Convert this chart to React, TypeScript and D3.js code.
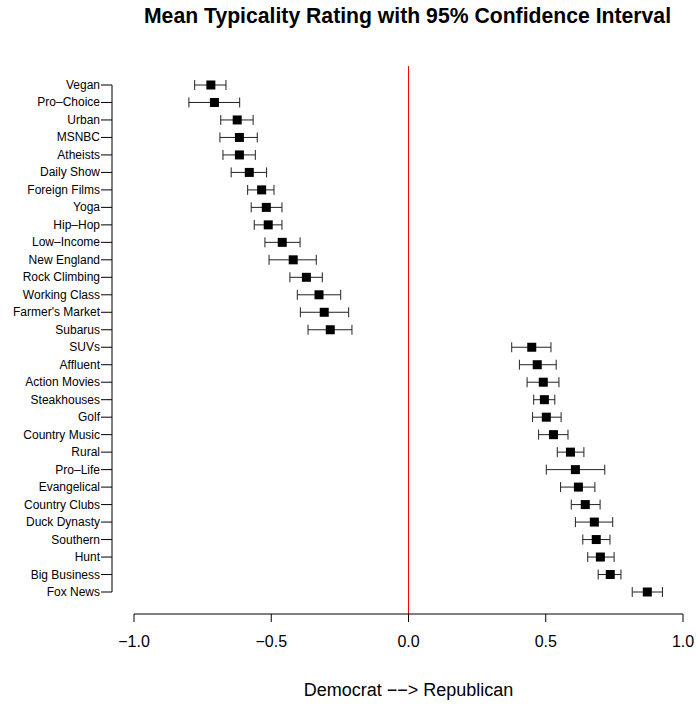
import React from "react";
import * as d3 from "d3";

// Items ordered top to bottom
const categories = [
  "Vegan", "Pro–Choice", "Urban", "MSNBC", "Atheists", "Daily Show", "Foreign Films",
  "Yoga", "Hip–Hop", "Low–Income", "New England", "Rock Climbing", "Working Class",
  "Farmer's Market", "Subarus", "SUVs", "Affluent", "Action Movies", "Steakhouses",
  "Golf", "Country Music", "Rural", "Pro–Life", "Evangelical", "Country Clubs",
  "Duck Dynasty", "Southern", "Hunt", "Big Business", "Fox News",
];

// Mean typicality rating per item
const means = [
  -0.72, -0.707, -0.624, -0.616, -0.616, -0.58, -0.535,
  -0.518, -0.511, -0.46, -0.42, -0.372, -0.326,
  -0.307, -0.285, 0.449, 0.469, 0.491, 0.495,
  0.502, 0.528, 0.59, 0.608, 0.619, 0.644,
  0.677, 0.684, 0.699, 0.735, 0.87,
];

// Lower bound of the 95% confidence interval
const lower = [
  -0.779, -0.8, -0.684, -0.687, -0.676, -0.646, -0.586,
  -0.573, -0.562, -0.523, -0.508, -0.432, -0.405,
  -0.394, -0.366, 0.376, 0.404, 0.432, 0.456,
  0.452, 0.474, 0.542, 0.502, 0.554, 0.593,
  0.608, 0.635, 0.653, 0.691, 0.815,
];

// Upper bound of the 95% confidence interval
const upper = [
  -0.665, -0.615, -0.566, -0.551, -0.558, -0.517, -0.49,
  -0.461, -0.461, -0.395, -0.336, -0.314, -0.247,
  -0.218, -0.206, 0.519, 0.538, 0.548, 0.533,
  0.556, 0.581, 0.639, 0.715, 0.679, 0.698,
  0.744, 0.734, 0.749, 0.774, 0.925,
];

const xTicks = [-1, -0.5, 0, 0.5, 1];

const W = 696;
const H = 704;
const FONT = "'Liberation Sans', Arial, Helvetica, sans-serif";

export default function App() {
  const x = d3.scaleLinear().domain([-1, 1]).range([134, 683]);
  const y = d3.scalePoint<string>().domain(categories).range([85, 592]);
  const axisY = 614;
  const yAxisX = 112;
  const fmt = (v: number) => d3.format(".1f")(v).replace("-", "–");
  const rows = categories.map((c, i) => ({ c, m: means[i], lo: lower[i], hi: upper[i] }));
  const sq = 9;
  const cap = 5;

  return (
    <svg
      width={W}
      height={H}
      style={{ position: "absolute", left: 0, top: 0, display: "block", background: "#fff" }}
      fontFamily={FONT}
    >
      <text x={407.5} y={23} textAnchor="middle" fontSize={21.2} fontWeight="bold" fill="#000">
        Mean Typicality Rating with 95% Confidence Interval
      </text>

      {/* reference line at zero */}
      <line x1={x(0)} x2={x(0)} y1={66} y2={axisY} stroke="#ff0000" strokeWidth={1} />

      {/* y axis */}
      <line x1={yAxisX} x2={yAxisX} y1={y(categories[0])} y2={y(categories[categories.length - 1])} stroke="#000" />
      {categories.map((c) => (
        <g key={c}>
          <line x1={yAxisX - 11} x2={yAxisX} y1={y(c)} y2={y(c)} stroke="#000" />
          <text x={yAxisX - 12} y={(y(c) as number) + 4} textAnchor="end" fontSize={12} fill="#000">
            {c}
          </text>
        </g>
      ))}

      {/* confidence intervals and means */}
      {rows.map((r) => {
        const cy = y(r.c) as number;
        return (
          <g key={r.c}>
            <line x1={x(r.lo)} x2={x(r.hi)} y1={cy} y2={cy} stroke="#222" strokeWidth={1} />
            <line x1={x(r.lo)} x2={x(r.lo)} y1={cy - cap} y2={cy + cap} stroke="#222" strokeWidth={1} />
            <line x1={x(r.hi)} x2={x(r.hi)} y1={cy - cap} y2={cy + cap} stroke="#222" strokeWidth={1} />
            <rect x={x(r.m) - sq / 2} y={cy - sq / 2} width={sq} height={sq} fill="#000" />
          </g>
        );
      })}

      {/* x axis */}
      <line x1={x(-1)} x2={x(1)} y1={axisY} y2={axisY} stroke="#000" />
      {xTicks.map((t) => (
        <g key={t}>
          <line x1={x(t)} x2={x(t)} y1={axisY} y2={axisY + 8} stroke="#000" />
          <text x={x(t)} y={axisY + 33} textAnchor="middle" fontSize={16} fill="#000">
            {fmt(t)}
          </text>
        </g>
      ))}
      <text x={x(0)} y={696} textAnchor="middle" fontSize={18} fill="#000">
        Democrat −−&gt; Republican
      </text>
    </svg>
  );
}
